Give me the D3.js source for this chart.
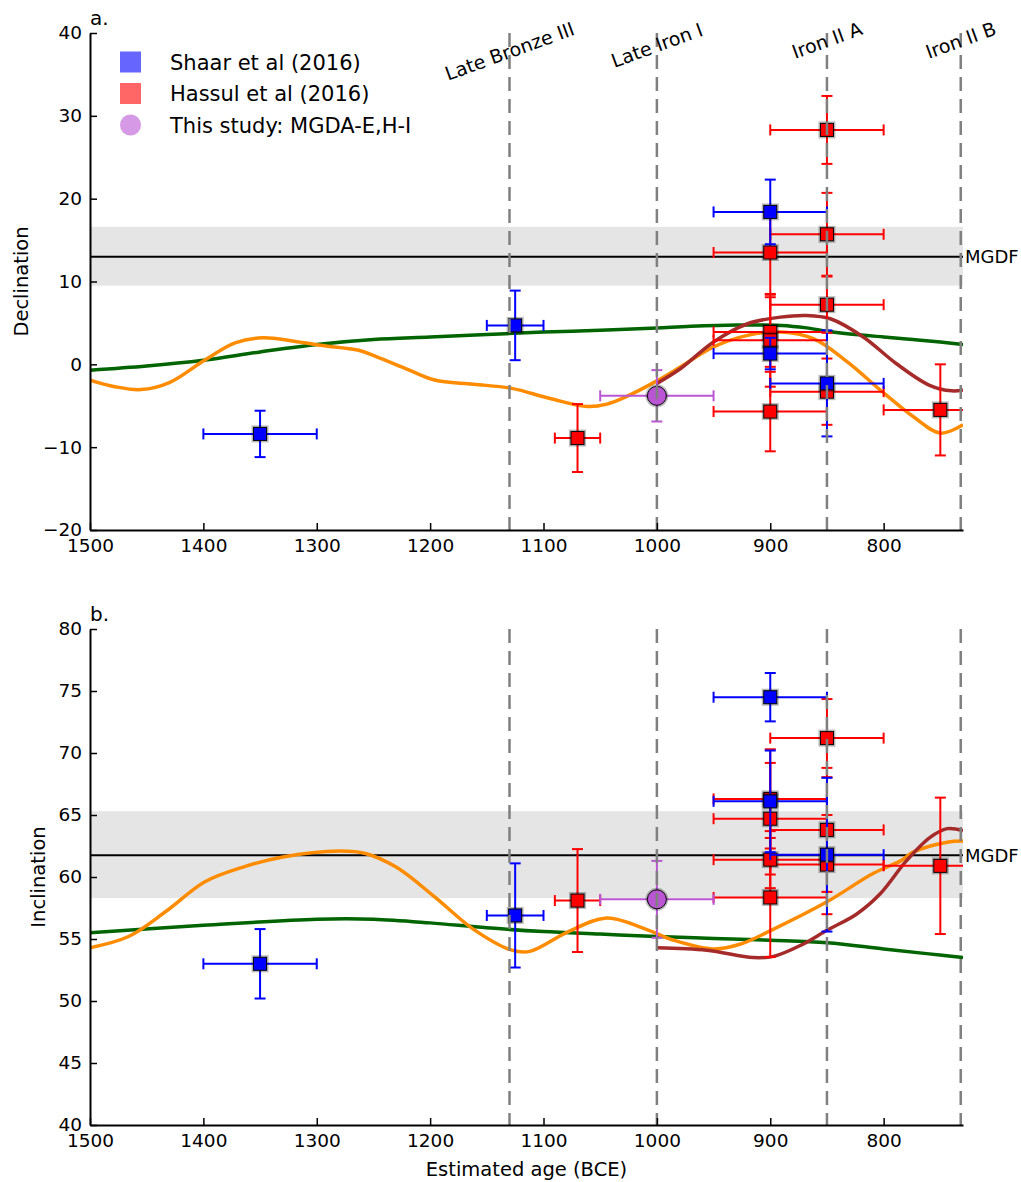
<!DOCTYPE html>
<html>
<head>
<meta charset="utf-8">
<script src="https://cdn.jsdelivr.net/npm/d3@7"></script>
<style>
  body { margin: 0; background: #fff; }
  svg { display: block; }
  text { font-family: "DejaVu Sans", sans-serif; fill: #000; }
</style>
</head>
<body>
<svg id="chart" width="1021" height="1182"></svg>
<script>
// ---- axis ticks ----
const ageTicks = [1500, 1400, 1300, 1200, 1100, 1000, 900, 800];
const decTicks = [-20, -10, 0, 10, 20, 30, 40];
const incTicks = [40, 45, 50, 55, 60, 65, 70, 75, 80];

// ---- archaeological periods (boundaries, BCE) ----
const periodNames = ["Late Bronze III", "Late Iron I", "Iron II A", "Iron II B"];
const periodAges = [1130, 1000, 850, 732];

// ---- Shaar et al (2016) ----
const shaarDecAge = [1350, 1125, 900, 900, 850];
const shaarDecAgeErr = [50, 25, 50, 50, 50];
const shaarDec = [-8.4, 4.7, 18.4, 1.3, -2.3];
const shaarDecErr = [2.8, 4.2, 3.9, 1.9, 6.4];

const shaarIncAge = [1350, 1125, 900, 900, 850];
const shaarIncAgeErr = [50, 25, 50, 50, 50];
const shaarInc = [53.0, 56.9, 74.5, 66.1, 61.8];
const shaarIncErr = [2.8, 4.2, 1.95, 4.1, 6.2];

// ---- Hassul et al (2016) ----
const hassulDecAge = [1070, 850, 850, 900, 850, 900, 900, 850, 900, 750];
const hassulDecAgeErr = [20, 50, 50, 50, 50, 50, 50, 50, 50, 50];
const hassulDec = [-8.9, 28.3, 15.7, 13.5, 7.2, 3.9, 2.9, -3.3, -5.7, -5.5];
const hassulDecErr = [4.1, 4.1, 5.0, 5.1, 3.4, 4.2, 5.6, 4.0, 4.8, 5.5];

const hassulIncAge = [1070, 850, 900, 900, 850, 900, 850, 900, 750];
const hassulIncAgeErr = [20, 50, 50, 50, 50, 50, 50, 50, 50];
const hassulInc = [58.1, 71.2, 66.3, 64.7, 63.8, 61.4, 61.0, 58.35, 60.9];
const hassulIncErr = [4.15, 3.15, 4.0, 4.5, 5.0, 2.3, 4.0, 4.8, 5.5];

// ---- This study: MGDA-E,H-I ----
const studyAge = [1000];
const studyAgeErr = [50];
const studyDec = [-3.8];
const studyDecErr = [3.1];
const studyInc = [58.2];
const studyIncErr = [3.1];

// ---- MGDF reference value and band ----
const mgdfDec = 13.0, mgdfDecLo = 9.5, mgdfDecHi = 16.6;
const mgdfInc = 61.75, mgdfIncLo = 58.3, mgdfIncHi = 65.3;

// ---- field model curves: declination ----
const greenDecAge = [1500, 1450, 1400, 1350, 1300, 1250, 1200, 1150, 1100, 1050, 1000, 970, 930, 890, 868, 850, 832, 800, 774, 750, 730];
const greenDec    = [-0.7, -0.2, 0.5, 1.5, 2.4, 3.0, 3.3, 3.6, 3.9, 4.1, 4.4, 4.6, 4.75, 4.7, 4.4, 4.0, 3.7, 3.3, 3.0, 2.7, 2.4];

const orangeDecAge = [1500, 1478, 1455, 1430, 1399, 1372, 1348, 1320, 1297, 1263, 1247, 1220, 1196, 1162, 1128, 1095, 1061, 1044, 1027, 1000, 979, 950, 920, 891, 862, 832, 803, 774, 750, 730];
const orangeDec    = [-1.9, -2.7, -3.05, -2.2, 0.5, 2.6, 3.2, 2.8, 2.3, 1.7, 0.9, -0.6, -1.9, -2.4, -2.9, -4.1, -5.1, -4.8, -3.9, -2.0, -0.3, 2.1, 3.5, 3.9, 3.1, 0.3, -3.1, -6.3, -8.3, -7.3];

const brownDecAge = [1000, 979, 950, 920, 891, 868, 847, 818, 789, 760, 740, 730];
const brownDec    = [-2.3, -0.5, 2.7, 4.9, 5.7, 5.9, 5.5, 3.3, 0.1, -2.5, -3.2, -3.1];

// ---- field model curves: inclination ----
const greenIncAge = [1500, 1400, 1300, 1250, 1200, 1150, 1100, 1050, 1000, 950, 900, 850, 800, 760, 730];
const greenInc    = [55.5, 56.1, 56.6, 56.6, 56.3, 55.9, 55.6, 55.4, 55.2, 55.05, 54.9, 54.7, 54.2, 53.8, 53.5];

const orangeIncAge = [1500, 1466, 1432, 1399, 1365, 1331, 1280, 1257, 1230, 1196, 1162, 1128, 1112, 1078, 1044, 1010, 985, 950, 926, 897, 850, 809, 785, 774, 744, 730];
const orangeInc    = [54.3, 55.2, 57.3, 59.6, 60.8, 61.6, 62.1, 61.9, 60.8, 58.4, 55.8, 54.1, 54.0, 55.6, 56.7, 55.8, 54.9, 54.2, 54.6, 55.8, 58.0, 60.3, 61.3, 62.0, 62.8, 62.9];

const brownIncAge = [1000, 956, 915, 897, 873, 850, 824, 803, 780, 759, 744, 730];
const brownInc    = [54.3, 54.1, 53.5, 53.6, 54.5, 55.7, 57.0, 58.65, 61.3, 63.2, 63.9, 63.75];

// ---- colours ----
const colShaar = "#0000ff", colHassul = "#ff0000", colStudy = "#ba55d3";
const colGreen = "#006400", colOrange = "#ff8c00", colBrown = "#a52a2a";

const svg = d3.select("#chart");
const left = 90, right = 963;
const x = d3.scaleLinear().domain([1500, 730]).range([left, right]);

function drawErrorSeries(g, y, ages, ageErr, vals, valErr, color, shape) {
  const cap = 5.5;
  ages.forEach((a, i) => {
    const cx = x(a), cy = y(vals[i]);
    const x0 = x(a + ageErr[i]), x1 = x(a - ageErr[i]);
    const y0 = y(vals[i] + valErr[i]), y1 = y(vals[i] - valErr[i]);
    const eg = g.append("g").attr("stroke", color).attr("stroke-width", 2).attr("fill", "none");
    eg.append("line").attr("x1", x0).attr("x2", x1).attr("y1", cy).attr("y2", cy);
    eg.append("line").attr("x1", x0).attr("x2", x0).attr("y1", cy - cap).attr("y2", cy + cap);
    eg.append("line").attr("x1", x1).attr("x2", x1).attr("y1", cy - cap).attr("y2", cy + cap);
    eg.append("line").attr("x1", cx).attr("x2", cx).attr("y1", y0).attr("y2", y1);
    eg.append("line").attr("x1", cx - cap).attr("x2", cx + cap).attr("y1", y0).attr("y2", y0);
    eg.append("line").attr("x1", cx - cap).attr("x2", cx + cap).attr("y1", y1).attr("y2", y1);
  });
  ages.forEach((a, i) => {
    const cx = x(a), cy = y(vals[i]);
    if (shape === "square") {
      g.append("rect").attr("x", cx - 7.5).attr("y", cy - 7.5).attr("width", 15).attr("height", 15)
        .attr("fill", "none").attr("stroke", "rgba(0,0,0,0.28)").attr("stroke-width", 2);
      g.append("rect").attr("x", cx - 6.5).attr("y", cy - 6.5).attr("width", 13).attr("height", 13)
        .attr("fill", color).attr("stroke", "#000").attr("stroke-width", 1);
    } else {
      g.append("circle").attr("cx", cx).attr("cy", cy).attr("r", 10.5)
        .attr("fill", "none").attr("stroke", "rgba(0,0,0,0.25)").attr("stroke-width", 2);
      g.append("circle").attr("cx", cx).attr("cy", cy).attr("r", 9.5)
        .attr("fill", color).attr("stroke", "#000").attr("stroke-width", 1);
    }
  });
}

function drawPanel(p) {
  const y = d3.scaleLinear().domain(p.domain).range([p.bottom, p.top]);
  const clipId = "clip-" + p.id;
  svg.append("clipPath").attr("id", clipId).append("rect")
    .attr("x", left).attr("y", p.top).attr("width", right - left).attr("height", p.bottom - p.top);
  const plot = svg.append("g").attr("clip-path", `url(#${clipId})`);

  // MGDF band and line
  plot.append("rect").attr("x", left).attr("width", right - left)
    .attr("y", y(p.refHi)).attr("height", y(p.refLo) - y(p.refHi)).attr("fill", "#e5e5e5");
  plot.append("line").attr("x1", left).attr("x2", right).attr("y1", y(p.ref)).attr("y2", y(p.ref))
    .attr("stroke", "#000").attr("stroke-width", 2);

  // model curves
  const line = d3.line().x(d => x(d[0])).y(d => y(d[1])).curve(d3.curveCatmullRom.alpha(0.5));
  p.curves.forEach(c => {
    plot.append("path").datum(d3.zip(c.age, c.val)).attr("d", line)
      .attr("fill", "none").attr("stroke", c.color).attr("stroke-width", 3.5)
      .attr("stroke-linejoin", "round").attr("stroke-linecap", "butt");
  });

  // data with error bars
  p.series.forEach(s => drawErrorSeries(plot, y, s.age, s.ageErr, s.val, s.err, s.color, s.shape));

  // period boundaries
  periodAges.forEach(a => {
    plot.append("line").attr("x1", x(a)).attr("x2", x(a)).attr("y1", p.top).attr("y2", p.bottom)
      .attr("stroke", "#808080").attr("stroke-width", 2.5).attr("stroke-dasharray", "14,8");
  });

  // axes
  const yAxis = d3.axisLeft(y).tickValues(p.ticks).tickFormat(d3.format("d"))
    .tickSizeInner(-7).tickSizeOuter(0).tickPadding(8);
  const ga = svg.append("g").attr("transform", `translate(${left},0)`).call(yAxis);
  const xAxis = d3.axisBottom(x).tickValues(ageTicks).tickFormat(d3.format("d"))
    .tickSizeInner(-7).tickSizeOuter(0).tickPadding(9);
  const gb = svg.append("g").attr("transform", `translate(0,${p.bottom})`).call(xAxis);
  [ga, gb].forEach(a => {
    a.select(".domain").attr("stroke", "#000").attr("stroke-width", 2);
    a.selectAll(".tick line").attr("stroke", "#000").attr("stroke-width", 1.5);
    a.selectAll(".tick text").attr("font-size", 18.5).attr("font-family", "DejaVu Sans, sans-serif").attr("fill", "#000");
  });

  // MGDF label
  svg.append("text").attr("x", right + 2).attr("y", y(p.ref)).attr("dy", "0.36em")
    .attr("font-size", 18).text("MGDF");

  // y label
  svg.append("text").attr("transform", `translate(${p.labelX},${(p.top + p.bottom) / 2}) rotate(-90)`)
    .attr("text-anchor", "middle").attr("font-size", 19.5).text(p.label);

  // panel tag
  svg.append("text").attr("x", left).attr("y", p.top - 8).attr("font-size", 20).text(p.tag);
}

drawPanel({
  id: "dec", top: 33, bottom: 530, domain: [-20, 40], ticks: decTicks,
  ref: mgdfDec, refLo: mgdfDecLo, refHi: mgdfDecHi,
  label: "Declination", labelX: 28, tag: "a.",
  curves: [
    { age: greenDecAge, val: greenDec, color: colGreen },
    { age: orangeDecAge, val: orangeDec, color: colOrange },
    { age: brownDecAge, val: brownDec, color: colBrown }
  ],
  series: [
    { age: hassulDecAge, ageErr: hassulDecAgeErr, val: hassulDec, err: hassulDecErr, color: colHassul, shape: "square" },
    { age: shaarDecAge, ageErr: shaarDecAgeErr, val: shaarDec, err: shaarDecErr, color: colShaar, shape: "square" },
    { age: studyAge, ageErr: studyAgeErr, val: studyDec, err: studyDecErr, color: colStudy, shape: "circle" }
  ]
});

drawPanel({
  id: "inc", top: 629, bottom: 1125, domain: [40, 80], ticks: incTicks,
  ref: mgdfInc, refLo: mgdfIncLo, refHi: mgdfIncHi,
  label: "Inclination", labelX: 45, tag: "b.",
  curves: [
    { age: greenIncAge, val: greenInc, color: colGreen },
    { age: orangeIncAge, val: orangeInc, color: colOrange },
    { age: brownIncAge, val: brownInc, color: colBrown }
  ],
  series: [
    { age: hassulIncAge, ageErr: hassulIncAgeErr, val: hassulInc, err: hassulIncErr, color: colHassul, shape: "square" },
    { age: shaarIncAge, ageErr: shaarIncAgeErr, val: shaarInc, err: shaarIncErr, color: colShaar, shape: "square" },
    { age: studyAge, ageErr: studyAgeErr, val: studyInc, err: studyIncErr, color: colStudy, shape: "circle" }
  ]
});

// period names above the declination panel
const periodLabelY = [51, 45, 40, 40];
periodNames.forEach((name, i) => {
  svg.append("text")
    .attr("transform", `translate(${x(periodAges[i])},${periodLabelY[i]}) rotate(-20)`)
    .attr("text-anchor", "middle").attr("dominant-baseline", "central")
    .attr("font-size", 19).text(name);
});

// x-axis title
svg.append("text").attr("x", (left + right) / 2).attr("y", 1176).attr("text-anchor", "middle")
  .attr("font-size", 19.5).text("Estimated age (BCE)");

// legend
const legendItems = [
  { label: "Shaar et al (2016)", color: colShaar, shape: "square" },
  { label: "Hassul et al (2016)", color: colHassul, shape: "square" },
  { label: "This study: MGDA-E,H-I", color: colStudy, shape: "circle" }
];
const legend = svg.append("g");
legendItems.forEach((it, i) => {
  const cy = 62 + i * 31.5;
  if (it.shape === "square") {
    legend.append("rect").attr("x", 120).attr("y", cy - 10.5).attr("width", 21).attr("height", 21)
      .attr("fill", it.color).attr("fill-opacity", 0.6);
  } else {
    legend.append("circle").attr("cx", 130.5).attr("cy", cy).attr("r", 10.5)
      .attr("fill", it.color).attr("fill-opacity", 0.6);
  }
  legend.append("text").attr("x", 170).attr("y", cy + 7.5).attr("font-size", 21).text(it.label);
});
</script>
</body>
</html>
